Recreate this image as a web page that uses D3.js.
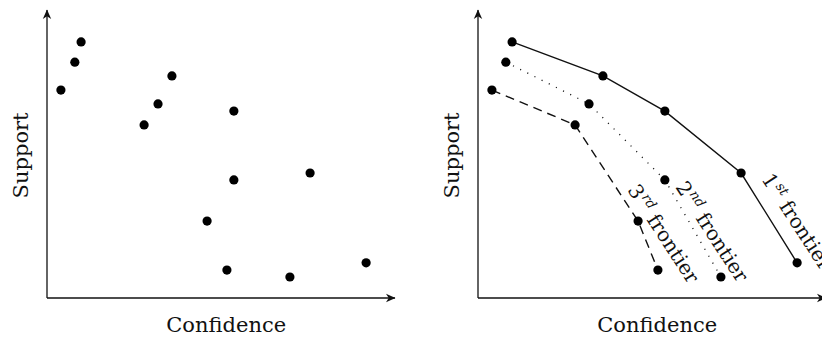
<!DOCTYPE html>
<html>
<head>
<meta charset="utf-8">
<script src="https://cdn.jsdelivr.net/npm/d3@7"></script>
<style>
  html, body { margin: 0; padding: 0; background: #fff; }
  svg { display: block; }
  text { font-family: "DejaVu Serif", "Liberation Serif", serif; fill: #111; }
</style>
</head>
<body>
<div id="chart"></div>
<script>
// ---- data (abstract units) ----
const pointIds   = ["A","B","C","D","E","F","G","H","I","J","K","L","M"];
const confidence = [9.8, 8.0, 4.0, 35.9, 31.9, 27.9, 53.7, 53.7, 75.6, 46.0, 51.7, 69.8, 91.7];
const support    = [88.9, 81.9, 72.2, 77.1, 67.4, 60.1, 64.9, 41.0, 43.4, 26.7, 9.7, 7.3, 12.2];
const frontierOf = [1, 2, 3, 1, 2, 3, 1, 2, 1, 3, 3, 2, 1];
const frontierIds   = [1, 2, 3];
const frontierOrd   = ["st", "nd", "rd"];
const frontierWord  = "frontier";
const xTitle = "Confidence";
const yTitle = "Support";

const points = pointIds.map((id, i) => ({ id, c: confidence[i], s: support[i], f: frontierOf[i] }));

// ---- layout ----
const W = 822, H = 340;
const svg = d3.select("#chart").append("svg").attr("width", W).attr("height", H);

const defs = svg.append("defs");
defs.append("marker")
  .attr("id", "arrow")
  .attr("viewBox", "-10 -5 11 10")
  .attr("refX", 0).attr("refY", 0)
  .attr("markerWidth", 11).attr("markerHeight", 10)
  .attr("markerUnits", "userSpaceOnUse")
  .attr("orient", "auto")
  .append("path")
  .attr("d", "M0.5,0 L-9,-4.2 L-6.3,0 L-9,4.2 Z")
  .attr("fill", "#111");

const plotW = 348, plotH = 288;
const x = d3.scaleLinear().domain([0, 100]).range([0, plotW]);
const y = d3.scaleLinear().domain([0, 100]).range([0, -plotH]);

function panel(ox, oy, showFrontiers) {
  const g = svg.append("g").attr("transform", `translate(${ox},${oy})`);
  // axes
  g.append("line")
    .attr("x1", x.range()[0]).attr("y1", 0)
    .attr("x2", x.range()[1]).attr("y2", 0)
    .attr("stroke", "#111").attr("stroke-width", 1.3)
    .attr("marker-end", "url(#arrow)");
  g.append("line")
    .attr("x1", 0).attr("y1", y.range()[0])
    .attr("x2", 0).attr("y2", y.range()[1])
    .attr("stroke", "#111").attr("stroke-width", 1.3)
    .attr("marker-end", "url(#arrow)");

  // titles
  g.append("text")
    .attr("x", x(51.5)).attr("y", 34)
    .attr("text-anchor", "middle")
    .attr("font-size", 21)
    .text(xTitle);
  g.append("text")
    .attr("transform", `translate(-19,${y(49.5)}) rotate(-90)`)
    .attr("text-anchor", "middle")
    .attr("font-size", 21)
    .text(yTitle);

  if (showFrontiers) {
    const line = d3.line().x(d => x(d.c)).y(d => y(d.s));
    const styles = {
      1: { dash: null, width: 1.4 },
      2: { dash: "1.1,6.9", width: 1.3 },
      3: { dash: "9,6", width: 1.4 }
    };
    frontierIds.forEach(f => {
      const pts = points.filter(p => p.f === f).sort((a, b) => a.c - b.c);
      g.append("path")
        .datum(pts)
        .attr("d", line)
        .attr("fill", "none")
        .attr("stroke", "#111")
        .attr("stroke-width", styles[f].width)
        .attr("stroke-dasharray", styles[f].dash);
    });
  }

  g.selectAll("circle.pt").data(points).join("circle")
    .attr("class", "pt")
    .attr("cx", d => x(d.c)).attr("cy", d => y(d.s))
    .attr("r", 4.6)
    .attr("fill", "#000");

  if (showFrontiers) {
    // label anchors: near a point of each frontier, offset in pixels
    const anchorId = { 1: "I", 2: "H", 3: "J" };
    const offs = { 1: [20, 6], 2: [10, 7], 3: [-11, -31] };
    frontierIds.forEach((f, i) => {
      const p = points.find(q => q.id === anchorId[f]);
      const t = g.append("text")
        .attr("transform", `translate(${x(p.c) + offs[f][0]},${y(p.s) + offs[f][1]}) rotate(57)`)
        .attr("font-size", 20);
      t.append("tspan").text(String(f));
      t.append("tspan").attr("font-size", 13.5).attr("dx", 1).attr("dy", -8).attr("font-style", "italic").text(frontierOrd[i]);
      t.append("tspan").attr("dy", 8).text("\u00a0" + frontierWord);
    });
  }
}

panel(47, 298, false);
panel(478, 298, true);
</script>
</body>
</html>
